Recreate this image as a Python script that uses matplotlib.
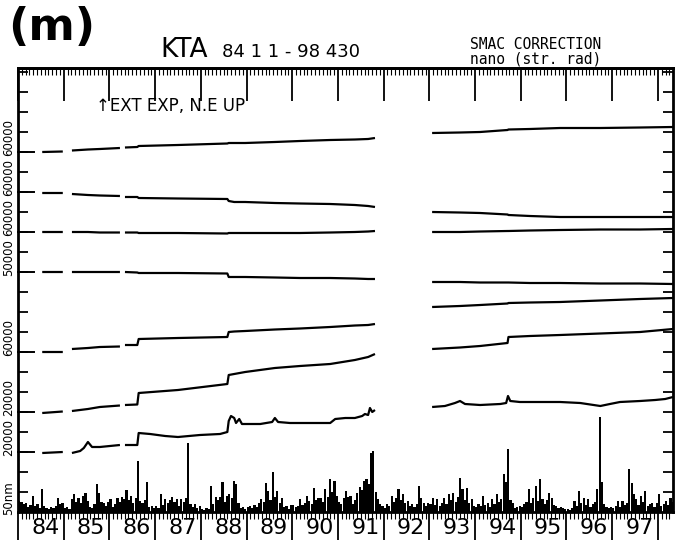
import numpy as np
import matplotlib
matplotlib.use("Agg")
import matplotlib.pyplot as plt
import matplotlib.transforms as mtransforms
from matplotlib.ticker import MultipleLocator

# ---------------- data ----------------
# Sample epochs (decimal year) shared by the six smooth records; NaN rows mark data gaps.
knot_years = [1984.53, 1984.98, 1985.08, 1985.18, 1985.53, 1985.79, 1986.23, 1986.28,
              1986.34, 1986.61, 1986.64, 1987.50, 1988.58, 1988.61, 1988.73, 1988.97,
              1989.62, 1990.17, 1990.83, 1991.37, 1991.66, 1991.81, 1992.40, 1993.06,
              1993.67, 1994.11, 1994.71, 1994.73, 1995.20, 1995.86, 1996.74, 1997.61,
              1998.33]
nan = np.nan
trace_1 = [360, 360.5, nan, 361.5, 362.5, 363, 364, nan, 364.5, 365, 366, 367, 368.5, 369,
           369, 369, 370, 371, 372, 372.5, 373, 374, nan, 379, 379.5, 380, 382, 382.5, 383,
           384, 384, 384.5, 385]
trace_2 = [319, 319, nan, 318, 317, 316.5, 316, nan, 315, 315, 314, 313.5, 313, 311, 310,
           310, 309, 308.5, 308, 307, 306, 305, nan, 300, 299.5, 299, 297.5, 297, 296, 295,
           295, 295, 295]
trace_3 = [280, 280, nan, 280, 280, 279.5, 279.5, nan, 279.5, 279.5, 279, 279, 278.5, 279,
           279, 279, 279, 279, 279.5, 280, 280.5, 281, nan, 280, 280, 280.5, 281, 281, 281.5,
           282, 282.5, 282.5, 283]
trace_4 = [240, 240, nan, 240, 240, 240, 240, nan, 240, 239.5, 239, 239, 238.5, 235, 235,
           235, 234.5, 234, 234, 233.5, 233, 233, nan, 230, 230, 229.5, 229.5, 229.5, 229,
           229, 228.5, 228.5, 228]
trace_5 = [160, 160, nan, 163, 164, 165, 165.5, nan, 167, 167, 173, 174, 175, 180, 180.5,
           181, 182.5, 183.5, 185, 186.5, 187, 188, nan, 205, 206, 207, 208.5, 209, 209.5,
           210, 211.5, 213, 214]
trace_6 = [99, 100.5, nan, 101, 103, 105, 106.5, nan, 107, 107.5, 119, 122, 128, 137, 138,
           140, 144, 146, 148, 152, 155, 158, nan, 163, 164.5, 166, 169, 175, 176, 177, 178.5,
           180, 183]

# The lowest record is noisier and has its own sampling.
trace_7_years = [1984.53, 1984.98, 1985.08, 1985.18, 1985.36, 1985.44, 1985.53, 1985.62,
                 1985.79, 1986.01, 1986.23, 1986.28, 1986.34, 1986.61, 1986.64, 1986.89,
                 1987.22, 1987.50, 1987.98, 1988.42, 1988.58, 1988.61, 1988.66, 1988.73,
                 1988.77, 1988.84, 1988.90, 1989.30, 1989.56, 1989.62, 1989.69, 1989.95,
                 1990.39, 1990.83, 1990.94, 1991.16, 1991.37, 1991.53, 1991.59, 1991.66,
                 1991.70, 1991.75, 1991.81, 1992.40, 1993.06, 1993.34, 1993.56, 1993.67,
                 1993.78, 1994.11, 1994.55, 1994.68, 1994.72, 1994.77, 1994.98, 1995.42,
                 1995.86, 1996.30, 1996.74, 1996.95, 1997.17, 1997.61, 1997.94, 1998.16,
                 1998.33]
trace_7 = [59, 60, nan, 59, 61, 64, 70, 65, 65, 66, 67, nan, 67, 67, 79, 78, 76, 75, 77, 78,
           80, 91, 96, 94, 89, 93, 88, 88, 90, 94, 90, 89, 89, 89, 93, 94, 94, 96, 98, 97,
           104, 100, 102, nan, 105, 106, 109, 111, 108, 107, 108, 109, 116, 111, 110, 110,
           110, 109, 106, 108, 110, 111, 112, 113, 115]

# Zero levels of the seven records and the scale written beside each one
trace_levels = [360, 320, 280, 240, 160, 100, 60]
scale_labels = ["60000", "60000", "60000", "50000", "60000", "20000", "20000", "50nm"]

# Residual amplitude histogram, 20 samples per year
hist_84 = [11, 10, 8, 9, 5, 7, 16, 6, 8, 4, 23, 6, 4, 3, 5, 4, 6, 14, 8, 9]
hist_85 = [4, 5, 3, 13, 18, 10, 14, 9, 16, 19, 11, 5, 4, 8, 28, 19, 10, 9, 6, 10]
hist_86 = [13, 5, 8, 14, 10, 15, 13, 22, 12, 16, 9, 14, 51, 11, 9, 12, 30, 5, 6, 4]
hist_87 = [6, 4, 18, 7, 13, 9, 12, 15, 10, 13, 6, 13, 10, 14, 69, 8, 5, 8, 4, 6]
hist_88 = [3, 2, 4, 3, 26, 8, 15, 12, 15, 30, 10, 16, 18, 14, 31, 28, 9, 4, 5, 3]
hist_89 = [5, 6, 4, 7, 5, 9, 13, 10, 29, 21, 12, 40, 15, 21, 9, 14, 5, 6, 3, 7]
hist_90 = [7, 5, 6, 13, 7, 9, 16, 11, 8, 24, 12, 14, 14, 10, 23, 15, 33, 20, 31, 16]
hist_91 = [10, 8, 14, 21, 15, 16, 8, 12, 19, 25, 22, 31, 33, 28, 59, 61, 20, 13, 8, 6]
hist_92 = [4, 8, 6, 16, 10, 14, 23, 12, 18, 9, 11, 6, 8, 5, 8, 26, 14, 9, 6, 9]
hist_93 = [8, 14, 7, 13, 6, 9, 14, 8, 18, 12, 19, 10, 15, 34, 23, 12, 24, 9, 13, 6]
hist_94 = [5, 8, 6, 16, 7, 9, 5, 13, 8, 18, 10, 13, 38, 30, 63, 12, 9, 4, 5, 6]
hist_95 = [5, 8, 10, 23, 9, 14, 26, 11, 33, 13, 8, 12, 19, 14, 7, 6, 4, 5, 4, 3]
hist_96 = [3, 2, 4, 11, 6, 21, 9, 14, 7, 13, 5, 8, 10, 23, 95, 30, 8, 5, 4, 5]
hist_97 = [4, 6, 11, 5, 11, 7, 9, 43, 29, 18, 13, 7, 16, 10, 21, 6, 8, 9, 5, 9]
hist_98 = [18, 6, 8, 11, 7, 14, 10]

year_labels = ["84", "85", "86", "87", "88", "89", "90", "91", "92", "93", "94", "95", "96", "97"]
first_year = 1984
end_year = 1998.33

# ---------------- figure ----------------
fig = plt.figure(figsize=(6.85, 5.5), dpi=100)
fig.patch.set_facecolor("white")
ax = fig.add_axes([18 / 685, 38 / 550, 655 / 685, 444 / 550])
ax.set_xlim(first_year, end_year)
ax.set_ylim(0, 444)

ink = "black"
for vals in (trace_1, trace_2, trace_3, trace_4, trace_5, trace_6):
    ax.plot(knot_years, vals, color=ink, lw=1.6, solid_capstyle="butt")
ax.plot(trace_7_years, trace_7, color=ink, lw=1.6, solid_capstyle="butt")

hist = np.concatenate([hist_84, hist_85, hist_86, hist_87, hist_88, hist_89, hist_90,
                       hist_91, hist_92, hist_93, hist_94, hist_95, hist_96, hist_97,
                       hist_98]).astype(float)
bin_w = 1 / 20
bin_x = first_year + (np.arange(hist.size) + 0.5) * bin_w
ax.bar(bin_x, hist, width=bin_w * 0.95, color=ink, linewidth=0, align="center")

# frame
for side in ("left", "right", "top", "bottom"):
    ax.spines[side].set_linewidth(2.0)
    ax.spines[side].set_color(ink)

# x ticks: years outward below, months as minor ticks
ax.xaxis.set_major_locator(MultipleLocator(1))
ax.xaxis.set_minor_locator(MultipleLocator(1 / 12))
ax.tick_params(axis="x", which="major", direction="out", length=20, width=1.3,
               labelbottom=False, color=ink)
ax.tick_params(axis="x", which="minor", direction="out", length=5, width=0.8, color=ink)

top = ax.secondary_xaxis("top")
top.xaxis.set_major_locator(MultipleLocator(1))
top.xaxis.set_minor_locator(MultipleLocator(1 / 12))
top.tick_params(axis="x", which="major", direction="in", length=24, width=1.3,
                labeltop=False, color=ink)
top.tick_params(axis="x", which="minor", direction="in", length=5, width=0.8, color=ink)
top.spines["top"].set_linewidth(2.0)

# y ticks: inward on both sides every 20 units
ax.yaxis.set_major_locator(MultipleLocator(20))
ax.tick_params(axis="y", which="major", direction="in", length=7, width=1.3,
               left=True, right=True, labelleft=False, color=ink)

# longer marks at the zero level of each record
ytrans = mtransforms.blended_transform_factory(ax.transAxes, ax.transData)
for lev in trace_levels:
    ax.plot([0, 0.024], [lev, lev], color=ink, lw=1.4, transform=ytrans, clip_on=False)

# scale labels written sideways left of the frame
for lab, lev in zip(scale_labels, trace_levels + [0]):
    ax.text(-0.015, lev + 14, lab, transform=ytrans, rotation=90, ha="center",
            va="center", fontsize=8.5, family="DejaVu Sans", color=ink, clip_on=False)

# year labels between the year ticks
xtrans = mtransforms.blended_transform_factory(ax.transData, ax.transAxes)
for i, lab in enumerate(year_labels):
    ax.text(first_year + i + 0.6, -0.036, lab, transform=xtrans, ha="center", va="center",
            fontsize=16, family="DejaVu Sans", color=ink, clip_on=False)

ax.text(0.119, 0.914, "\u2191EXT EXP, N.E UP", transform=ax.transAxes, ha="left",
        va="center", fontsize=12, family="DejaVu Sans", color=ink)

# header
fig.text(8 / 685, 1 - 27 / 550, "(m)", fontsize=32, fontweight="bold",
         family="DejaVu Sans", ha="left", va="center", color=ink)
fig.text(160 / 685, 1 - 57 / 550, "KTA", fontsize=19, family="DejaVu Sans",
         ha="left", va="baseline", color=ink)
fig.text(222 / 685, 1 - 57 / 550, "84 1 1 - 98 430", fontsize=13, family="DejaVu Sans",
         ha="left", va="baseline", color=ink)
fig.text(470 / 685, 1 - 49 / 550, "SMAC CORRECTION", fontsize=10.5, family="DejaVu Sans Mono",
         ha="left", va="baseline", color=ink)
fig.text(470 / 685, 1 - 64 / 550, "nano (str. rad)", fontsize=10.5, family="DejaVu Sans Mono",
         ha="left", va="baseline", color=ink)

fig.savefig("out.png", dpi=100, facecolor="white")
